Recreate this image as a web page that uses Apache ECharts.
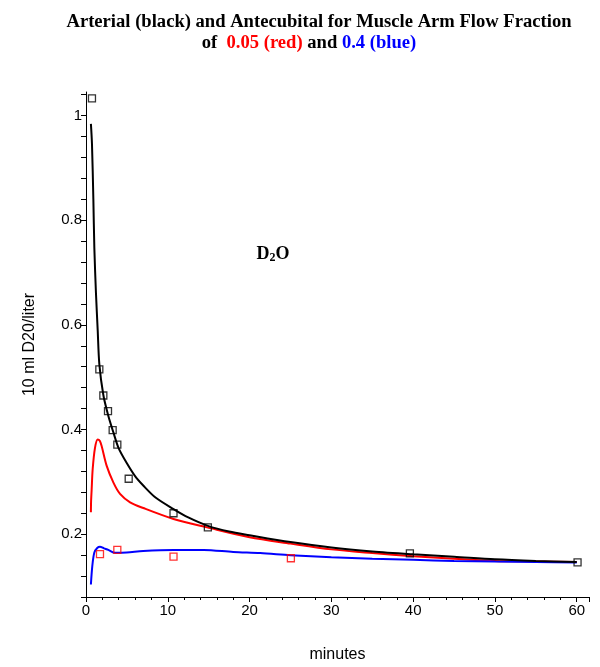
<!DOCTYPE html>
<html>
<head>
<meta charset="utf-8">
<script src="https://cdn.jsdelivr.net/npm/echarts@6/dist/echarts.min.js"></script>
<style>
html,body{margin:0;padding:0;background:#fff;}
#chart{width:600px;height:667px;}
</style>
</head>
<body>
<div id="chart"></div>
<script>
// Arterial (black) model curve
var arterialCurve = [[0.6,0.984],[0.73,0.946],[0.9,0.84],[1.02,0.747],[1.22,0.66],[1.43,0.59],[1.63,0.525],[2.12,0.466],[2.7,0.428],[3.34,0.395],[4.0,0.364],[4.98,0.336],[6.0,0.311],[7.0,0.293],[8.5,0.27],[10.7,0.248],[12.5,0.232],[14.9,0.216],[17.5,0.205],[20,0.198],[25,0.185],[30,0.1745],[35,0.167],[40,0.1616],[45,0.157],[50,0.152],[55,0.149],[60,0.147]];
// Antecubital, flow fraction 0.05 (red)
var redCurve = [[0.6,0.242],[0.62,0.262],[0.69,0.285],[0.82,0.325],[1.1,0.365],[1.43,0.381],[1.7,0.378],[1.92,0.368],[2.52,0.331],[3.34,0.299],[4.16,0.277],[5.39,0.261],[7.0,0.25],[10.7,0.229],[14.8,0.213],[20,0.194],[25,0.182],[30,0.171],[35,0.164],[40,0.158],[45,0.153],[50,0.149],[55,0.148],[60,0.147]];
// Antecubital, flow fraction 0.4 (blue)
var blueCurve = [[0.6,0.104],[0.77,0.139],[1.02,0.165],[1.4,0.174],[1.71,0.176],[2.2,0.173],[2.73,0.170],[3.55,0.1645],[4.98,0.165],[7,0.168],[10.7,0.17],[14.4,0.17],[18,0.166],[21.3,0.164],[25,0.16],[30,0.156],[35,0.153],[40,0.151],[45,0.149],[50,0.1476],[55,0.147],[60,0.146]];
// Measured arterial points (black squares)
var arterialPoints = [[0.73,1.033],[1.63,0.515],[2.12,0.465],[2.69,0.435],[3.26,0.399],[3.83,0.371],[5.22,0.306],[10.7,0.240],[14.9,0.213],[39.6,0.1635],[60.1,0.146]];
// Measured antecubital points (red squares)
var antecubitalPoints = [[1.71,0.162],[3.83,0.170],[10.7,0.157],[25.05,0.154]];

var chart = echarts.init(document.getElementById('chart'));
function isMajor(v){ var k=v*5; return Math.abs(Math.round(k)-k)<1e-6; }
chart.setOption({
  animation:false,
  backgroundColor:'#fff',
  grid:{left:86, top:92, right:11, bottom:70, containLabel:false, outerBoundsMode:'none'},
  xAxis:{
    type:'value', min:0, max:61.5, interval:10,
    name:'minutes', nameLocation:'middle', nameGap:50,
    nameTextStyle:{fontFamily:'Liberation Sans', fontSize:16, color:'#000'},
    axisLine:{lineStyle:{color:'#000', width:1}},
    axisTick:{show:true, length:5, lineStyle:{color:'#000'}},
    minorTick:{show:true, splitNumber:5, length:3, lineStyle:{color:'#000'}},
    axisLabel:{fontFamily:'Liberation Sans', fontSize:15, color:'#000', margin:6, showMaxLabel:false},
    splitLine:{show:false}
  },
  yAxis:{
    type:'value', min:0.08, max:1.045, interval:0.04,
    name:'10 ml D20/liter', nameLocation:'middle', nameGap:48,
    nameTextStyle:{fontFamily:'Liberation Sans', fontSize:16, color:'#000'},
    axisLine:{lineStyle:{color:'#000', width:1}},
    axisTick:{show:true, length:5, lineStyle:{color:'#000'}},
    axisLabel:{fontFamily:'Liberation Sans', fontSize:15, color:'#000', margin:4, showMaxLabel:false,
      formatter:function(v){ return isMajor(v) ? (Math.round(v*10)/10).toString() : ''; }},
    splitLine:{show:false}
  },
  graphic:[
    {type:'text', x:319, y:22, style:{text:'Arterial (black) and Antecubital for Muscle Arm Flow Fraction', fontFamily:'Liberation Serif', fontWeight:'bold', fontSize:18.6, fill:'#000', align:'center', verticalAlign:'middle'}},
    {type:'text', x:309, y:43, style:{text:'{k|of  }{r|0.05 (red)}{k| and }{b|0.4 (blue)}', align:'center', verticalAlign:'middle',
      rich:{k:{fontFamily:'Liberation Serif', fontWeight:'bold', fontSize:18.6, fill:'#000', color:'#000'},
            r:{fontFamily:'Liberation Serif', fontWeight:'bold', fontSize:18.6, fill:'#ff0000', color:'#ff0000'},
            b:{fontFamily:'Liberation Serif', fontWeight:'bold', fontSize:18.6, fill:'#0000ff', color:'#0000ff'}}}},
    {type:'text', x:273, y:254, style:{text:'{a|D}{s|2}{a|O}', align:'center', verticalAlign:'middle',
      rich:{a:{fontFamily:'Liberation Serif', fontWeight:'bold', fontSize:18, lineHeight:20, color:'#000', fill:'#000'},
            s:{fontFamily:'Liberation Serif', fontWeight:'bold', fontSize:12, lineHeight:12, verticalAlign:'bottom', color:'#000', fill:'#000'}}}}
  ],
  series:[
    {type:'line', data:redCurve, showSymbol:false, smooth:0.3, lineStyle:{color:'#ff0000', width:2}, z:2},
    {type:'line', data:blueCurve, showSymbol:false, smooth:0.3, lineStyle:{color:'#0000ff', width:2}, z:2},
    {type:'line', data:arterialCurve, showSymbol:false, smooth:0.3, lineStyle:{color:'#000', width:2}, z:3},
    {type:'scatter', data:arterialPoints, symbol:'rect', symbolSize:7, itemStyle:{color:'rgba(255,255,255,0)', borderColor:'#000', borderWidth:1.3}, z:4},
    {type:'scatter', data:antecubitalPoints, symbol:'rect', symbolSize:7, itemStyle:{color:'rgba(255,255,255,0)', borderColor:'#ff0000', borderWidth:1.3}, z:4}
  ]
});
</script>
</body>
</html>
